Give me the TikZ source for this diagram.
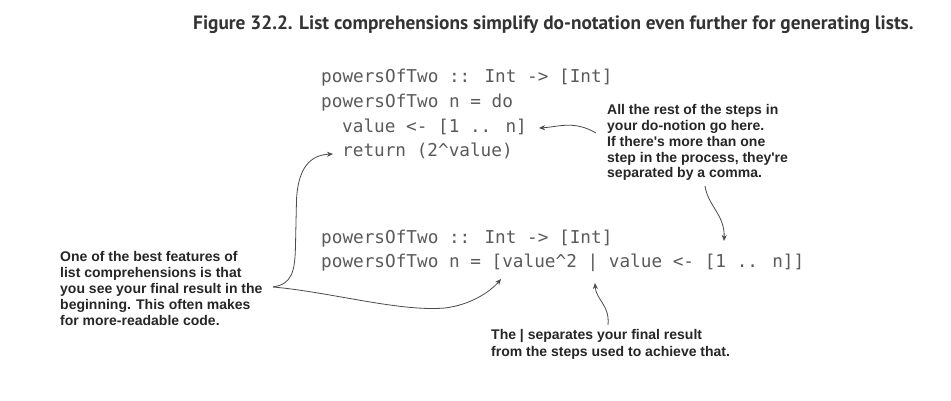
\documentclass[tikz,border=0pt]{standalone}
\usepackage{fontspec}
\usetikzlibrary{arrows.meta}
\newfontfamily\titlefont{PT Sans}
\newfontfamily\codefont{DejaVu Sans Mono}
\newfontfamily\notefont{Liberation Sans}
\definecolor{codegray}{HTML}{5A5A5A}
\definecolor{linegray}{HTML}{4A4A4A}
\definecolor{notetext}{HTML}{262626}
\definecolor{titletext}{HTML}{333333}
\tikzset{
  codeline/.style={anchor=base west, inner sep=0pt, text=codegray, font=\codefont\fontsize{17.7}{20}\selectfont},
  noteline/.style={anchor=base west, inner sep=0pt, text=notetext, font=\notefont\bfseries\fontsize{14}{16}\selectfont},
  conn/.style={draw=linegray, line width=0.8pt, -{Stealth[length=6pt,width=5pt]}},
}
\begin{document}
\begin{tikzpicture}[x=1pt,y=-1pt]
\useasboundingbox[fill=white] (0,0) rectangle (951,401);
% title
\node[anchor=base west, inner sep=0pt, text=titletext, font=\titlefont\bfseries\fontsize{19.3}{21}\selectfont] (title) at (193,30) {Figure 32.2. List comprehensions simplify do-notation even further for generating lists.};
% first code block
\node[codeline] (c1) at (321,83) {powersOfTwo :: Int -> [Int]};
\node[codeline] (c2) at (321,107.7) {powersOfTwo n = do};
\node[codeline] (c3) at (342,132.3) {value <- [1 .. n]};
\node[codeline] (c4) at (342,157) {return (2\textasciicircum value)};
% second code block
\node[codeline] (d1) at (321,243) {powersOfTwo :: Int -> [Int]};
\node[codeline] (d2) at (321,267) {powersOfTwo n = [value\textasciicircum 2 | value <- [1 .. n]]};
% right note
\node[noteline] (r1) at (607,115) {All the rest of the steps in};
\node[noteline] (r2) at (607,130.7) {your do-notion go here.};
\node[noteline] (r3) at (607,146.4) {If there's more than one};
\node[noteline] (r4) at (607,162.1) {step in the process, they're};
\node[noteline] (r5) at (607,177.8) {separated by a comma.};
% left note
\node[noteline] (l1) at (60,261) {One of the best features of};
\node[noteline] (l2) at (60,277) {list comprehensions is that};
\node[noteline] (l3) at (60,293) {you see your final result in the};
\node[noteline] (l4) at (60,309) {beginning. This often makes};
\node[noteline] (l5) at (60,325) {for more-readable code.};
% bottom note
\node[noteline] (b1) at (491,339) {The | separates your final result};
\node[noteline] (b2) at (491,356) {from the steps used to achieve that.};
% connector ends
\coordinate (a1s) at (596,133);
\coordinate (a1e) at (539,128);
\coordinate (a2s) at (705,186);
\coordinate (a2e) at (724,241);
\coordinate (lj) at (273,287);
\coordinate (lup) at (333,154);
\coordinate (ldn) at (501,279);
\coordinate (a4s) at (608,325);
\coordinate (a4e) at (595,283);
% connectors
\draw[conn] (a1s) .. controls (574,120) and (558,127) .. (a1e);
\draw[conn] (a2s) .. controls (708,206) and (725,215) .. (a2e);
\draw[conn] (lj) .. controls (292,284) and (295,272) .. (295.5,245) -- (296.5,200) .. controls (298,168) and (310,155) .. (lup);
\draw[conn] (lj) .. controls (330,292) and (400,312) .. (445,308) .. controls (470,305) and (490,292) .. (ldn);
\draw[conn] (a4s) .. controls (610,305) and (596,300) .. (a4e);
\end{tikzpicture}
\end{document}
